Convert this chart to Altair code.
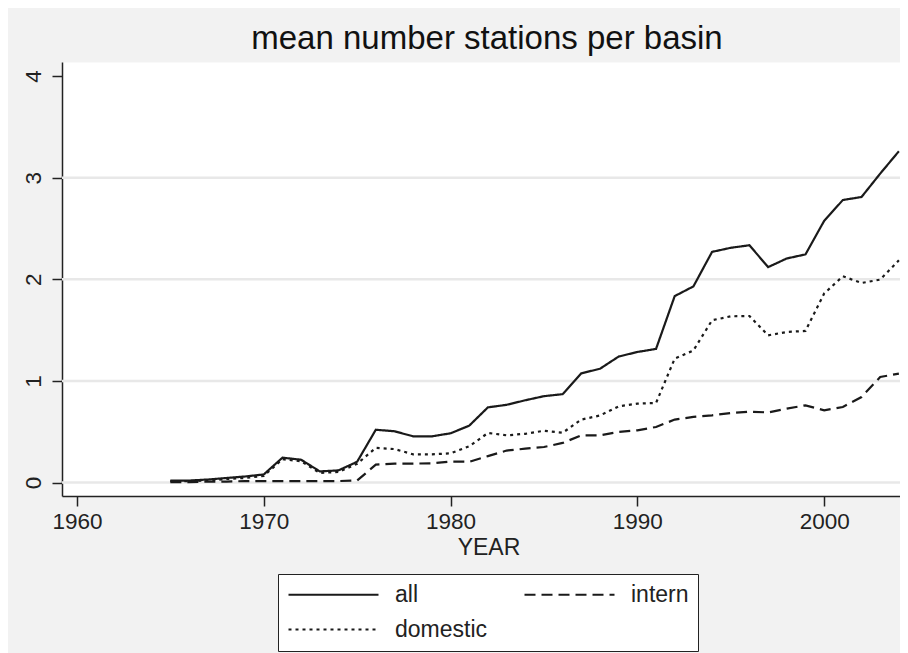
import altair as alt
import pandas as pd

years = list(range(1965, 2005))
all_vals = [0.02, 0.02, 0.03, 0.045, 0.06, 0.08, 0.245, 0.225, 0.11, 0.12,
            0.205, 0.52, 0.505, 0.455, 0.455, 0.485, 0.56, 0.74, 0.765, 0.81,
            0.85, 0.87, 1.075, 1.12, 1.24, 1.285, 1.315, 1.835, 1.93, 2.27,
            2.31, 2.335, 2.12, 2.205, 2.245, 2.575, 2.78, 2.81, 3.04, 3.26]
intern_vals = [0.005, 0.005, 0.01, 0.01, 0.015, 0.015, 0.015, 0.015, 0.015, 0.015,
               0.02, 0.177, 0.187, 0.187, 0.19, 0.207, 0.205, 0.26, 0.315, 0.334,
               0.35, 0.39, 0.465, 0.465, 0.498, 0.514, 0.547, 0.62, 0.646, 0.662,
               0.685, 0.698, 0.69, 0.728, 0.76, 0.711, 0.744, 0.842, 1.039, 1.072]
domestic_vals = [0.015, 0.015, 0.02, 0.035, 0.045, 0.065, 0.23, 0.21, 0.095, 0.105,
                 0.185, 0.342, 0.33, 0.278, 0.278, 0.288, 0.357, 0.488, 0.465, 0.48,
                 0.51, 0.49, 0.62, 0.66, 0.75, 0.777, 0.783, 1.22, 1.30, 1.597,
                 1.636, 1.639, 1.449, 1.482, 1.492, 1.86, 2.03, 1.964, 1.997, 2.187]
series_names = ["all", "intern", "domestic"]
dash_patterns = [[1, 0], [11, 6], [3, 4]]
x_ticks = [1960, 1970, 1980, 1990, 2000]
y_ticks = [0, 1, 2, 3, 4]
grid_values = [0, 1, 2, 3]

rows = []
for name, vals in zip(series_names, [all_vals, intern_vals, domestic_vals]):
    for yr, v in zip(years, vals):
        rows.append({"YEAR": yr, "value": v, "series": name})
df = pd.DataFrame(rows)

FONT = "Liberation Sans"
INK = "#222222"

x_scale = alt.Scale(domain=[1959.2, 2004.06], nice=False, zero=False)
y_scale = alt.Scale(domain=[-0.132, 4.138], nice=False, zero=False)

y_axis = alt.Axis(values=y_ticks, title=None, grid=False, labelAngle=270,
                  labelAlign="center", labelBaseline="alphabetic",
                  labelPadding=12, tickSize=10)
x_axis = alt.Axis(values=x_ticks, format="d", title="YEAR", grid=False,
                  tickSize=10, labelPadding=4, labelFlush=False,
                  titleX=426.5, titleY=58, titleBaseline="alphabetic",
                  titleAlign="center")

grid = alt.Chart(pd.DataFrame({"value": grid_values})).mark_rule(
    color="#e8e8e8", strokeWidth=2.5
).encode(y=alt.Y("value:Q", scale=y_scale, axis=y_axis))

lines = alt.Chart(df).mark_line(strokeWidth=2.2, color="#1a1a1a", strokeCap="butt").encode(
    x=alt.X("YEAR:Q", scale=x_scale, axis=x_axis),
    y=alt.Y("value:Q", scale=y_scale, axis=y_axis),
    strokeDash=alt.StrokeDash(
        "series:N",
        scale=alt.Scale(domain=series_names, range=dash_patterns),
        legend=alt.Legend(
            title=None, orient="none", legendX=216, legendY=512, columns=2,
            direction="horizontal", clipHeight=23,
            symbolType="stroke", symbolSize=8100, symbolStrokeWidth=2.2,
            symbolStrokeColor="#1a1a1a", labelFontSize=23, labelFont=FONT,
            labelColor=INK, labelOffset=15, columnPadding=35, rowPadding=11,
            padding=9, fillColor="white", strokeColor=INK, labelLimit=0,
        ),
    ),
)

chart = alt.layer(grid, lines).properties(
    width=838,
    height=434,
    padding={"left": 54, "top": 54, "right": 0, "bottom": 157},
    autosize=alt.AutoSizeParams(type="none"),
    background="#f2f2f2",
    title=alt.TitleParams(
        "mean number stations per basin", fontSize=33, font=FONT,
        fontWeight="normal", color="#111111", anchor="middle", dx=6,
        offset=13, dy=33, baseline="alphabetic",
    ),
).configure_view(
    fill="white", stroke="transparent"
).configure_axis(
    domainColor=INK, domainWidth=1.5, tickColor=INK, tickWidth=1.5,
    labelFontSize=22.5, labelFont=FONT, labelColor=INK,
    titleFontSize=23, titleFont=FONT, titleFontWeight="normal", titleColor=INK,
)

chart.save("out.html", embed_options={"renderer": "svg", "actions": False})
